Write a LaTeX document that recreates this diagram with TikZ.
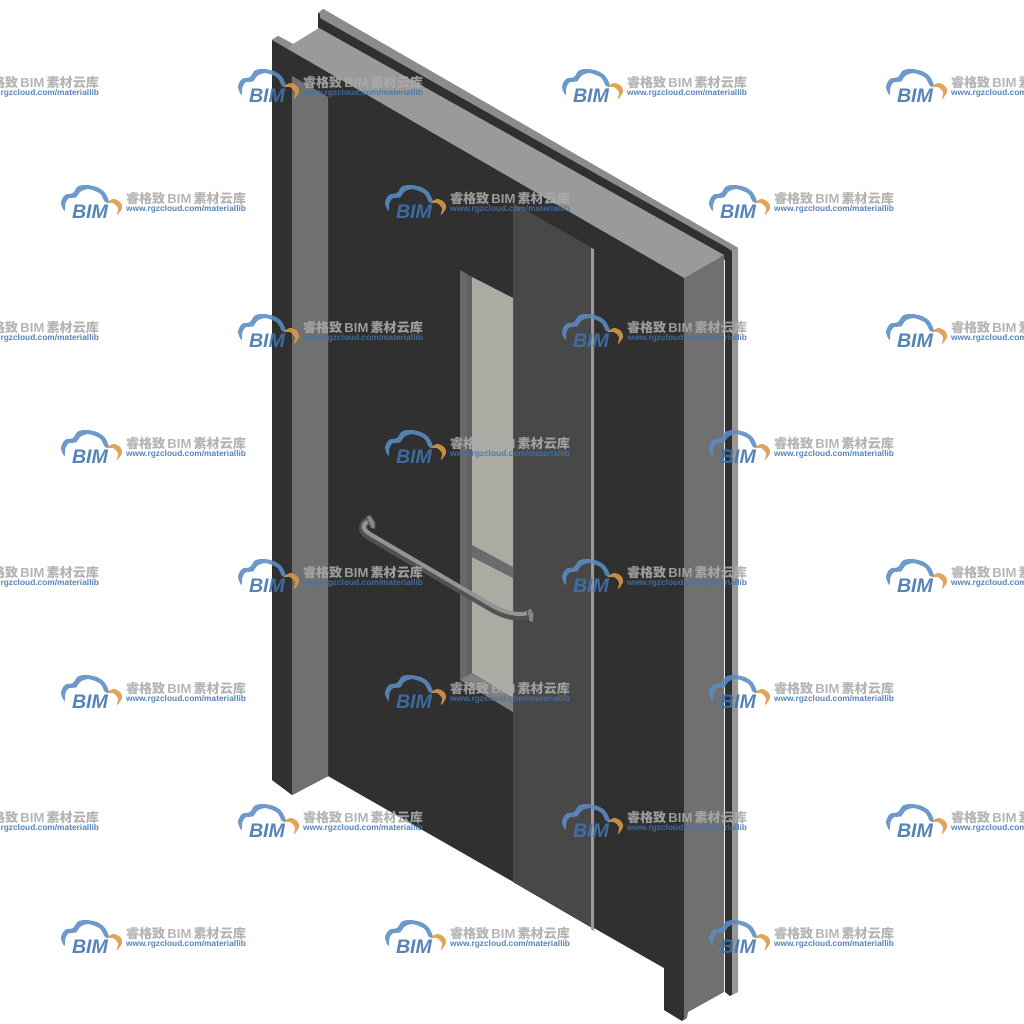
\documentclass[tikz,border=0pt]{standalone}
\usepackage{fontspec}
\usepackage{graphicx}
\setmainfont{Liberation Sans}
\newfontfamily\cjkfont{Noto Sans CJK SC}
\definecolor{faceD}{HTML}{303030}
\definecolor{jambG}{HTML}{707070}
\definecolor{soffitG}{HTML}{9A9A9A}
\definecolor{stripG}{HTML}{8C8C8C}
\definecolor{panelG}{HTML}{484848}
\definecolor{glassG}{HTML}{ABAAA3}
\definecolor{wmBlue}{HTML}{3F74B0}
\definecolor{wmCloud}{HTML}{5B8CC4}
\definecolor{wmOrange}{HTML}{DB9A45}
\definecolor{wmGray}{HTML}{ABABAB}
\tikzset{
  part/.style={fill=#1,draw=none},
  tubeO/.style={line width=8pt,draw=black!68,line cap=round,line join=round},
  tubeI/.style={line width=4pt,draw=black!42,line cap=round,line join=round},
  flange/.style={fill=black!48,draw=black!72,line width=0.7pt},
  wmark/.style={inner sep=0pt,outer sep=0pt,anchor=west}
}
\newcommand{\wm}[3]{%
\begin{scope}[shift={(#1,#2)},opacity=0.88,transparency group]
  \fill[wmCloud] plot[smooth cycle,tension=0.55] coordinates {(3.5,26) (0,18) (4,10) (12,8) (17,1.5) (26,0) (37,2.5) (44,8) (48,17) (44,17) (39,8.5) (27,4) (19,7) (15,12.5) (8,13) (4.5,18)};
  \fill[wmOrange] plot[smooth cycle,tension=0.55] coordinates {(46,18) (52,14) (59,17) (61,23) (56,30) (57,23) (52,18)};
  \node[wmark,text=wmBlue] (bim#3) at (11,26.5) {\resizebox{36pt}{!}{\bfseries\itshape BIM}};
  \node[wmark,text=wmGray] (cn#3) at (65,14) {\resizebox{120pt}{!}{\fontsize{12.5pt}{13pt}\selectfont\bfseries\cjkfont 睿格致\,\rmfamily BIM\,\cjkfont 素材云库}};
  \node[wmark,text=wmBlue] (url#3) at (65,24.5) {\resizebox{120pt}{!}{\fontsize{7.5pt}{8pt}\selectfont\bfseries www.rgzcloud.com/materiallib}};
\end{scope}}
\begin{document}
\begin{tikzpicture}[x=1pt,y=-1pt]
\clip (0,0) rectangle (1024,1024);
\fill[white] (0,0) rectangle (1024,1024);
% back frame
\fill[part=faceD] (318,13)--(318,30)--(725,260)--(725,992)--(730,996)--(733,994)--(733,250)--cycle;
\fill[part=stripG] (318,13)--(323,9)--(738,248)--(733,251)--cycle;
\fill[part=faceD] (318,21)--(733,257)--(733,251)--(318,13)--cycle;
\fill[part=stripG] (320,12)--(323,9)--(738,248)--(732,251)--(726,247)--(320,18)--cycle;
\fill[part=stripG!90!white] (732,250)--(738,248)--(738,992)--(732,995)--cycle;
% soffit
\fill[part=soffitG] (272,40)--(278,36)--(293,44)--(319,28)--(724,255)--(684,278)--cycle;
\fill[part=stripG] (272,40)--(278,36)--(293,44)--(288,49)--cycle;
% door face
\fill[part=faceD] (272,40)--(684,278)--(684,1019)--(682,1021)--(664,1010)--(664,968)--(328,776)--(292,795)--(272,780)--cycle;
% jambs
\fill[part=jambG] (292,76)--(328,97)--(328,776)--(292,795)--cycle;
\fill[part=jambG] (684,278)--(724,255)--(724,992)--(688,1012)--(687,1018)--(684,1020)--cycle;
% centre leaf
\fill[part=panelG] (513,203)--(592,248)--(592,928)--(513,882)--cycle;
\fill[part=soffitG] (591,248)--(594,249)--(594,931)--(591,929)--cycle;
% window
\fill[part=jambG!105] (460,270)--(467,274)--(467,680)--(460,680)--cycle;
\fill[part=black!62] (467,274)--(472,277)--(472,675)--(467,678)--cycle;
\fill[part=glassG] (472,277)--(513,298)--(513,698)--(472,673)--cycle;
\fill[part=black!50] (460,680)--(472,673)--(513,698)--(513,712)--cycle;
\fill[part=black!58] (472,545)--(513,567)--(513,578)--(472,557)--cycle;
% handle
\draw[tubeO] (368,521) .. controls (361,525) and (361,531) .. (369,536) -- (490,607) .. controls (503,615) and (517,619) .. (529,615);
\draw[tubeI] (367,522) .. controls (362,525) and (362,529) .. (370,534) -- (491,605) .. controls (503,612) and (517,616) .. (528,613);
\draw[flange] (366,517)--(370,515)--(375,522)--(375,529)--(371,528)--cycle;
\draw[flange] (527,610)--(531,608)--(534,614)--(533,623)--(529,621)--cycle;
% watermarks
\foreach \xx in {-86,238,562,886}{\foreach \yy in {69,314,559,804}{\wm{\xx}{\yy}{a\xx-\yy}}}
\foreach \xx in {61,385,709}{\foreach \yy in {185,430,675,920}{\wm{\xx}{\yy}{b\xx-\yy}}}
\end{tikzpicture}
\end{document}
